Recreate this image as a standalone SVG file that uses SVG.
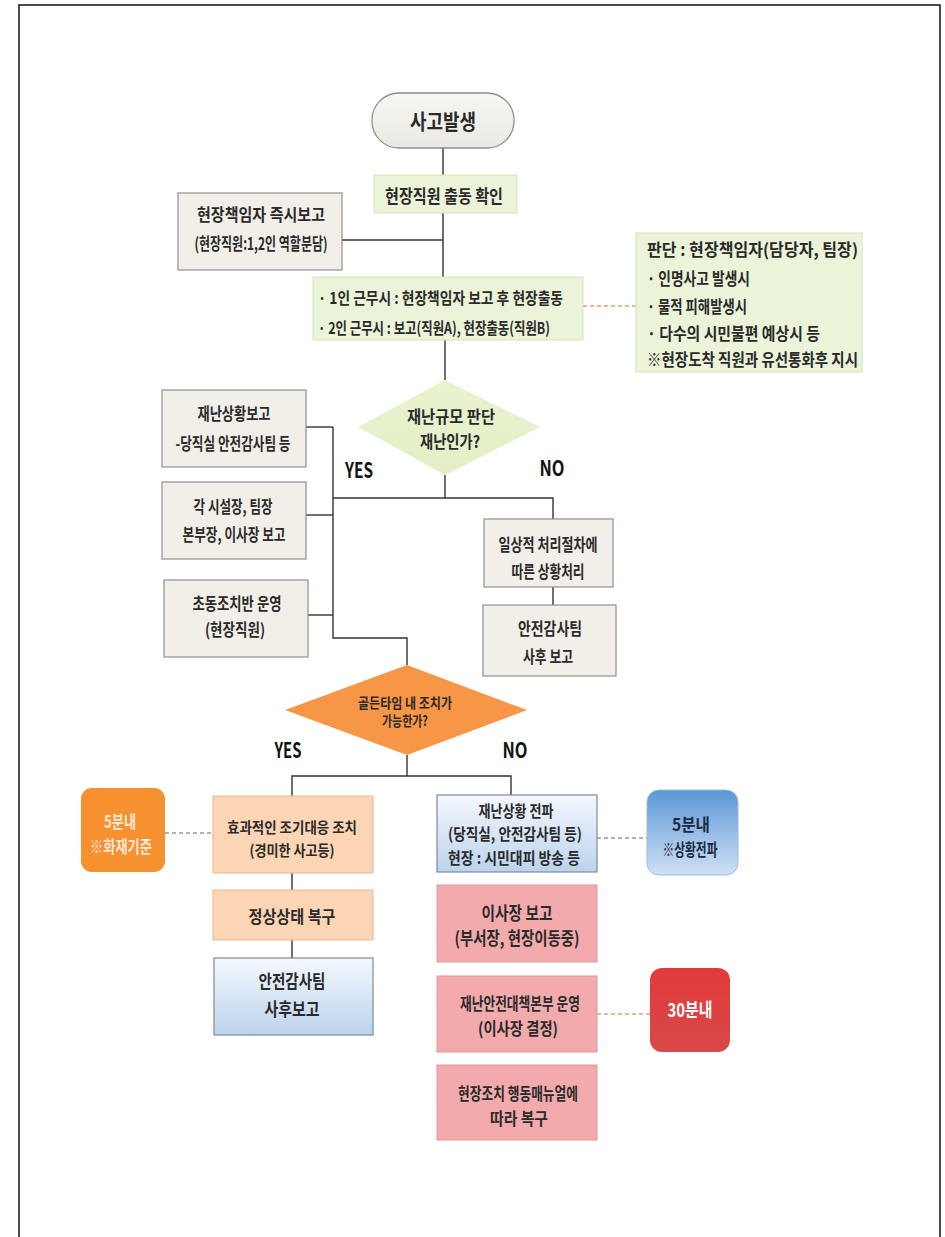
<svg xmlns="http://www.w3.org/2000/svg" width="945" height="1237" viewBox="0 0 945 1237">
<defs>
<style>
.t{font-family:"Noto Sans CJK KR","Noto Sans",sans-serif;font-size:17px;fill:#2a2a2a;text-anchor:middle;font-weight:700;dominant-baseline:central}
.s{font-size:16px}
.xs{font-size:14px}
.l{text-anchor:start}
.yn{font-family:"Noto Sans CJK KR","Liberation Sans",sans-serif;font-size:21px;font-weight:700;fill:#111;text-anchor:middle}
.beige{fill:#f2efe8;stroke:#8f8f8f;stroke-width:1.2}
.green{fill:#ebf4d8;stroke:#d3e4b6;stroke-width:1}
.peach{fill:#fcd5b4;stroke:#e9b891;stroke-width:1}
.blue{fill:url(#gBlue);stroke:#7d8a99;stroke-width:1.2}
.pink{fill:#f3aaad;stroke:#e39598;stroke-width:1}
.ln{stroke:#333;stroke-width:1.4;fill:none}
.dash{stroke:#e0a070;stroke-width:1.4;stroke-dasharray:4 3;fill:none}
.dashg{stroke:#a09890;stroke-width:1.4;stroke-dasharray:4 3;fill:none}
</style>
<linearGradient id="gBlue" x1="0" y1="0" x2="0" y2="1">
<stop offset="0" stop-color="#f4f8fd"/>
<stop offset="1" stop-color="#bcd3ec"/>
</linearGradient>
<linearGradient id="gBlue2" x1="0" y1="0" x2="0" y2="1">
<stop offset="0" stop-color="#5b97d6"/>
<stop offset="1" stop-color="#cfe1f4"/>
</linearGradient>
<linearGradient id="gRed" x1="0" y1="0" x2="0" y2="1">
<stop offset="0" stop-color="#e23a3a"/>
<stop offset="1" stop-color="#d94848"/>
</linearGradient>
<linearGradient id="gPill" x1="0" y1="0" x2="0" y2="1">
<stop offset="0" stop-color="#f7f6f2"/>
<stop offset="1" stop-color="#ebe9e2"/>
</linearGradient>
<linearGradient id="gDia" x1="0" y1="0" x2="0" y2="1">
<stop offset="0" stop-color="#e9f4cf"/>
<stop offset="1" stop-color="#e2efc6"/>
</linearGradient>
</defs>
<rect width="945" height="1237" fill="#ffffff"/>
<path d="M19,1237 V5 H940 V1237" fill="none" stroke="#111" stroke-width="1.5"/>

<g id="connectors">
<path class="ln" d="M443,148 V175"/>
<path class="ln" d="M443,213 V277"/>
<path class="ln" d="M342,240 H443"/>
<path class="ln" d="M445,340 V380"/>
<path class="ln" d="M445,475 V498"/>
<path class="ln" d="M333,498 H553 V519"/>
<path class="ln" d="M306,427 H333"/>
<path class="ln" d="M306,515 H333"/>
<path class="ln" d="M308,615 H333"/>
<path class="ln" d="M333,427 V638 H407 V665"/>
<path class="ln" d="M553,587 V605"/>
<path class="ln" d="M407,755 V776"/>
<path class="ln" d="M292,796 V776 H511 V795"/>
<path class="ln" d="M292,873 V890"/>
<path class="ln" d="M292,940 V958"/>
<path class="dash" d="M583,306 H636"/>
<path class="dashg" d="M165,833 H213"/>
<path class="dashg" d="M597,838 H647"/>
<path class="dash" d="M597,1014 H650"/>
</g>

<g id="start">
<rect x="372" y="93" width="142" height="55" rx="27" fill="url(#gPill)" stroke="#8f8f8f" stroke-width="1.3"/>
<text class="t" x="443" y="120" style="font-size:21px" textLength="66" lengthAdjust="spacingAndGlyphs">사고발생</text>
</g>

<g id="n-confirm">
<rect class="green" x="374" y="175" width="143" height="38"/>
<text class="t" x="444" y="195" style="font-size:18px" textLength="118" lengthAdjust="spacingAndGlyphs">현장직원 출동 확인</text>
</g>

<g id="n-report">
<rect class="beige" x="178" y="193" width="164" height="77"/>
<text class="t" x="261" y="213" textLength="128" lengthAdjust="spacingAndGlyphs">현장책임자 즉시보고</text>
<text class="t" x="261" y="242" textLength="133" lengthAdjust="spacingAndGlyphs">(현장직원:1,2인 역할분담)</text>
</g>

<g id="n-duty">
<rect class="green" x="313" y="277" width="270" height="63"/>
<text class="t s l" x="318" y="297" textLength="245" lengthAdjust="spacingAndGlyphs">· 1인 근무시 : 현장책임자 보고 후 현장출동</text>
<text class="t s l" x="318" y="327" textLength="232" lengthAdjust="spacingAndGlyphs">· 2인 근무시 : 보고(직원A), 현장출동(직원B)</text>
</g>

<g id="n-judge">
<rect class="green" x="636" y="233" width="226" height="139"/>
<text class="t l" x="647" y="248" textLength="211" lengthAdjust="spacingAndGlyphs">판단 : 현장책임자(담당자, 팀장)</text>
<text class="t l" x="647" y="277" textLength="103" lengthAdjust="spacingAndGlyphs">· 인명사고 발생시</text>
<text class="t l" x="647" y="305" textLength="100" lengthAdjust="spacingAndGlyphs">· 물적 피해발생시</text>
<text class="t l" x="647" y="332" textLength="173" lengthAdjust="spacingAndGlyphs">· 다수의 시민불편 예상시 등</text>
<text class="t l" x="647" y="358" textLength="211" lengthAdjust="spacingAndGlyphs">※현장도착 직원과 유선통화후 지시</text>
</g>

<g id="d-scale">
<polygon points="445,380 540,427 445,475 358,427" fill="url(#gDia)"/>
<text class="t" x="451" y="415" textLength="88" lengthAdjust="spacingAndGlyphs">재난규모 판단</text>
<text class="t" x="450" y="440" textLength="60" lengthAdjust="spacingAndGlyphs">재난인가?</text>
</g>
<text class="yn" x="359" y="478" textLength="28" lengthAdjust="spacingAndGlyphs">YES</text>
<text class="yn" x="552" y="476" textLength="25" lengthAdjust="spacingAndGlyphs">NO</text>

<g id="n-l1">
<rect class="beige" x="162" y="390" width="144" height="77"/>
<text class="t" x="234" y="412" textLength="73" lengthAdjust="spacingAndGlyphs">재난상황보고</text>
<text class="t" x="233" y="442" textLength="115" lengthAdjust="spacingAndGlyphs">-당직실 안전감사팀 등</text>
</g>
<g id="n-l2">
<rect class="beige" x="162" y="482" width="144" height="77"/>
<text class="t" x="233" y="505" textLength="79" lengthAdjust="spacingAndGlyphs">각 시설장, 팀장</text>
<text class="t" x="234" y="533" textLength="103" lengthAdjust="spacingAndGlyphs">본부장, 이사장 보고</text>
</g>
<g id="n-l3">
<rect class="beige" x="164" y="580" width="144" height="77"/>
<text class="t" x="237" y="602" textLength="89" lengthAdjust="spacingAndGlyphs">초동조치반 운영</text>
<text class="t" x="235" y="628" textLength="60" lengthAdjust="spacingAndGlyphs">(현장직원)</text>
</g>

<g id="n-normal">
<rect class="beige" x="484" y="519" width="129" height="68"/>
<text class="t" x="548" y="543" textLength="99" lengthAdjust="spacingAndGlyphs">일상적 처리절차에</text>
<text class="t" x="548" y="570" textLength="73" lengthAdjust="spacingAndGlyphs">따른 상황처리</text>
</g>
<g id="n-audit1">
<rect class="beige" x="483" y="605" width="133" height="71"/>
<text class="t" x="550" y="627" textLength="64" lengthAdjust="spacingAndGlyphs">안전감사팀</text>
<text class="t" x="548" y="655" textLength="50" lengthAdjust="spacingAndGlyphs">사후 보고</text>
</g>

<g id="d-golden">
<polygon points="407,665 527,710 407,755 285,710" fill="#f79646"/>
<text class="t xs" x="405" y="702" textLength="94" lengthAdjust="spacingAndGlyphs">골든타임 내 조치가</text>
<text class="t xs" x="405" y="720" textLength="46" lengthAdjust="spacingAndGlyphs">가능한가?</text>
</g>
<text class="yn" x="288" y="758" textLength="27" lengthAdjust="spacingAndGlyphs">YES</text>
<text class="yn" x="515" y="758" textLength="25" lengthAdjust="spacingAndGlyphs">NO</text>

<g id="n-fire">
<rect x="81" y="788" width="84" height="84" rx="11" fill="#f7902f"/>
<text class="t" x="120" y="820" style="fill:#fde9d9" textLength="32" lengthAdjust="spacingAndGlyphs">5분내</text>
<text class="t" x="121" y="845" style="fill:#fde9d9" textLength="62" lengthAdjust="spacingAndGlyphs">※화재기준</text>
</g>
<g id="n-early">
<rect class="peach" x="213" y="796" width="160" height="77"/>
<text class="t" x="292" y="826" style="font-size:15px" textLength="130" lengthAdjust="spacingAndGlyphs">효과적인 조기대응 조치</text>
<text class="t" x="292" y="849" style="font-size:15px" textLength="85" lengthAdjust="spacingAndGlyphs">(경미한 사고등)</text>
</g>
<g id="n-restore">
<rect class="peach" x="213" y="890" width="160" height="50"/>
<text class="t" x="292" y="915" textLength="87" lengthAdjust="spacingAndGlyphs">정상상태 복구</text>
</g>
<g id="n-audit2">
<rect class="blue" x="214" y="958" width="159" height="77"/>
<text class="t" x="292" y="980" style="font-size:18px" textLength="67" lengthAdjust="spacingAndGlyphs">안전감사팀</text>
<text class="t" x="292" y="1008" style="font-size:18px" textLength="55" lengthAdjust="spacingAndGlyphs">사후보고</text>
</g>

<g id="n-spread">
<rect class="blue" x="437" y="795" width="160" height="77"/>
<text class="t" x="516" y="810" style="font-size:16px" textLength="75" lengthAdjust="spacingAndGlyphs">재난상황 전파</text>
<text class="t" x="515" y="833" style="font-size:16px" textLength="134" lengthAdjust="spacingAndGlyphs">(당직실, 안전감사팀 등)</text>
<text class="t" x="514" y="857" style="font-size:16px" textLength="132" lengthAdjust="spacingAndGlyphs">현장 : 시민대피 방송 등</text>
</g>
<g id="n-5min">
<rect x="647" y="790" width="91" height="85" rx="12" fill="url(#gBlue2)" stroke="#9bbbe0" stroke-width="1"/>
<text class="t" x="691" y="823" style="fill:#1a2a40" textLength="38" lengthAdjust="spacingAndGlyphs">5분내</text>
<text class="t" x="690" y="848" style="fill:#1a2a40" textLength="55" lengthAdjust="spacingAndGlyphs">※상황전파</text>
</g>
<g id="n-ceo">
<rect class="pink" x="437" y="885" width="160" height="77"/>
<text class="t" x="517" y="912" style="font-size:18px" textLength="71" lengthAdjust="spacingAndGlyphs">이사장 보고</text>
<text class="t" x="517" y="937" style="font-size:18px" textLength="125" lengthAdjust="spacingAndGlyphs">(부서장, 현장이동중)</text>
</g>
<g id="n-hq">
<rect class="pink" x="437" y="976" width="160" height="76"/>
<text class="t" x="520" y="1002" textLength="120" lengthAdjust="spacingAndGlyphs">재난안전대책본부 운영</text>
<text class="t" x="518" y="1027" textLength="80" lengthAdjust="spacingAndGlyphs">(이사장 결정)</text>
</g>
<g id="n-30min">
<rect x="650" y="968" width="80" height="84" rx="12" fill="url(#gRed)"/>
<text class="t" x="690" y="1008" style="fill:#ffffff;font-size:19px" textLength="45" lengthAdjust="spacingAndGlyphs">30분내</text>
</g>
<g id="n-recover">
<rect class="pink" x="437" y="1065" width="160" height="75"/>
<text class="t" x="518" y="1092" textLength="120" lengthAdjust="spacingAndGlyphs">현장조치 행동매뉴얼에</text>
<text class="t" x="519" y="1117" textLength="58" lengthAdjust="spacingAndGlyphs">따라 복구</text>
</g>
</svg>
